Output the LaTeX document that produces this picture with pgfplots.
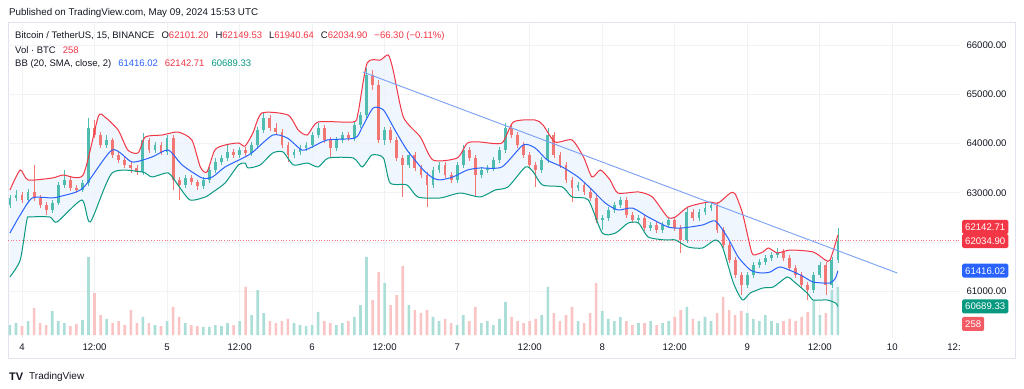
\documentclass[border=0pt]{standalone}
\usepackage{fontspec}
\setmainfont{Liberation Sans}
\usepackage{pgfplots}
\usepackage{pgfplotstable}
\pgfplotsset{compat=1.18}

\definecolor{txt}{RGB}{19,23,34}
\definecolor{gridc}{RGB}{240,242,246}
\definecolor{framec}{RGB}{224,227,235}
\definecolor{candup}{RGB}{80,188,176}
\definecolor{canddn}{RGB}{242,118,116}
\definecolor{volup}{RGB}{172,222,216}
\definecolor{voldn}{RGB}{250,196,196}
\definecolor{bbred}{RGB}{242,54,69}
\definecolor{bbblue}{RGB}{41,98,255}
\definecolor{bbgreen}{RGB}{8,153,129}
\definecolor{bbfill}{RGB}{240,246,253}
\definecolor{trendc}{RGB}{120,160,245}
\definecolor{lastc}{RGB}{247,120,130}
\definecolor{volbox}{RGB}{242,90,100}

% hourly candles, t = hours from May 4 00:00 UTC
\pgfplotstableread{
t o h l c v
-2 62752 62956 62691 62895 56
-1 62895 63057 62834 62956 67
1 62854 63078 62793 63017 78
5 62651 62854 62590 62793 134
6 62793 63220 62752 63159 78
7 63159 63464 63098 63261 67
10 63057 63261 63017 63200 84
11 63200 64521 63139 64318 437
14 63972 64175 63911 64074 90
20 63423 64216 63362 64074 101
22 63870 64033 63810 63972 56
24 63830 64175 63769 64114 78
27 63159 63362 63098 63301 67
30 63139 63322 63078 63261 45
31 63261 63525 63200 63464 45
32 63464 63708 63403 63627 56
33 63627 63769 63566 63708 50
34 63708 63972 63647 63830 67
36 63769 63932 63708 63870 78
38 63810 64033 63749 63972 112
39 63972 64338 63911 64277 252
40 64277 64643 64216 64521 123
45 63769 63891 63708 63830 67
46 63830 63972 63769 63911 56
47 63911 64033 63850 63972 50
48 63972 64236 63911 64175 56
49 64175 64419 64114 64318 129
52 63911 64135 63850 64074 56
53 64074 64236 64013 64175 67
55 64114 64440 64053 64379 101
56 64379 64643 64318 64582 168
57 64582 65538 64521 65395 437
60 64074 64338 63972 64277 291
64 63566 63830 63505 63769 168
68 63159 63525 63098 63464 101
69 63464 63627 63403 63566 78
72 63261 63627 63200 63566 56
73 63566 63972 63505 63870 112
76 63362 63525 63301 63464 67
77 63464 63566 63403 63505 78
78 63505 63728 63444 63667 56
79 63667 63932 63606 63870 90
80 63870 64419 63810 64318 185
86 63464 63728 63403 63667 112
87 63667 64318 63606 64175 269
92 63098 63220 63037 63159 78
96 62447 62549 62244 62488 134
97 62488 62712 62427 62651 90
98 62651 62813 62590 62752 78
99 62752 62915 62691 62854 101
102 62447 62549 62386 62488 67
104 62285 62407 62224 62346 78
106 62244 62407 62183 62346 67
107 62346 62508 62285 62447 78
110 62041 62691 61980 62610 157
112 62488 62671 62427 62610 78
113 62610 62793 62549 62691 101
114 62691 62813 62630 62752 78
120 61126 61390 61065 61329 123
121 61329 61594 61268 61533 90
122 61533 61655 61472 61594 78
123 61594 61736 61533 61675 112
124 61675 61797 61614 61736 78
125 61736 61878 61675 61797 67
131 61024 61390 60963 61329 196
132 61329 61594 61268 61533 112
134 61126 61695 61065 61634 252
135 61634 62285 61573 62035 269
}\upcandles

\pgfplotstableread{
t o h l c v
0 62956 63017 62793 62854 50
2 63017 63566 62834 62895 151
3 62895 62956 62691 62752 67
4 62752 62813 62549 62651 56
8 63261 63322 63037 63098 50
9 63098 63159 62996 63057 62
12 64318 64480 64114 64175 235
13 64175 64236 63911 63972 112
15 64074 64114 63708 63769 67
16 63769 63830 63606 63667 78
17 63667 63728 63505 63566 56
18 63566 63627 63403 63505 140
19 63505 63566 63362 63423 67
21 64074 64114 63810 63870 67
23 63972 64033 63769 63830 50
25 64114 64175 63057 63261 157
26 63261 63322 62854 63159 101
28 63301 63362 63159 63220 56
29 63220 63261 63057 63139 50
35 63830 63891 63708 63769 56
37 63870 63932 63749 63810 269
41 64521 64582 64257 64318 78
42 64318 64419 64175 64236 67
43 64236 64297 63911 63972 78
44 63972 64033 63627 63769 90
50 64318 64379 64013 64074 78
51 64074 64135 63728 63911 67
54 64175 64236 64053 64114 78
58 65395 65497 65090 65192 196
59 65192 65294 64013 64074 353
61 64277 64338 64013 64074 168
62 64074 64135 63647 63708 224
63 63708 63769 62915 63566 386
65 63769 63830 63444 63505 140
66 63505 63566 63301 63362 123
67 63362 63423 62712 63159 140
70 63566 63627 63301 63362 90
71 63362 63423 63200 63261 67
74 63870 63932 63647 63708 78
75 63708 63769 62915 63362 157
81 64318 64379 64114 64175 101
82 64175 64236 63911 63972 78
83 63972 64033 63708 63769 67
84 63769 63830 63505 63566 78
85 63566 63627 63118 63464 90
88 64175 64236 63708 63769 123
89 63769 63830 63505 63566 78
90 63566 63627 63200 63261 112
91 63261 63322 62813 63098 157
93 63159 63220 62956 63017 67
94 63017 63078 62834 62895 123
95 62895 62956 62386 62447 291
100 62854 62915 62488 62549 78
101 62549 62610 62386 62447 56
103 62488 62549 62224 62285 67
105 62346 62407 62183 62244 56
108 62447 62508 62224 62285 101
109 62285 62346 61777 62041 140
111 62610 62671 62427 62488 90
115 62752 62813 62183 62244 123
116 62244 62305 61878 61939 213
117 61939 62000 61573 61634 140
118 61634 61695 61268 61329 112
119 61329 61390 60923 61126 134
126 61797 61858 61614 61675 78
127 61675 61736 61411 61472 90
128 61472 61533 61268 61329 78
129 61329 61390 61065 61126 101
130 61126 61187 60821 61024 129
133 61533 61594 60923 61126 123
}\dncandles

\pgfplotstableread{
t p
-2 63057
-0.3 63464
1.0 63261
5.0 63301
6.8 63362
10.1 63362
12.6 64541
13.7 64541
15.9 64277
17.5 63870
19.2 63810
20.4 64135
23.2 64175
25.8 64236
28.1 64074
29.5 63525
30.6 63423
31.9 63870
33.6 63972
35.8 64013
36.9 63950
38.2 64216
39.7 64623
44.0 64582
45.7 64277
47.2 64175
49.0 64440
54.8 64440
55.6 64623
57.1 65639
59.3 65700
60.6 65802
61.4 65497
63.1 64541
65.9 64135
68.0 63667
72.0 63708
73.7 64013
75.8 64033
79.4 64013
81.3 64440
84.9 64480
86.2 64379
88.2 64033
91.0 64074
92.9 63728
94.3 63322
95.7 63464
97.3 63261
98.6 62996
102.0 63017
104.3 62915
106.8 62508
108.1 62508
110.2 62712
113.5 62813
115.2 62793
117.2 62996
118.0 62976
119.2 62590
120.5 61898
121.0 61736
122.6 61797
123.5 61878
125.0 61777
127.1 61837
130.9 61797
132.9 61634
133.7 61634
135.0 62143
}\bbupper

\pgfplotstableread{
t p
-2 62183
-0.3 62549
1.7 62895
5.0 62895
6.6 62935
10.1 63098
14.9 63870
18.2 63627
21.5 63728
24.2 63870
26.5 63566
29.8 63301
31.5 63322
33.6 63525
36.9 63728
38.2 63830
41.5 64175
43.9 64114
46.3 63870
48.0 63932
50.5 64074
55.1 64114
56.3 64338
58.1 64724
59.8 64684
61.7 64277
63.7 63870
66.4 63464
68.0 63301
69.2 63261
71.3 63322
73.7 63464
75.8 63505
79.4 63525
82.9 63972
84.9 63911
86.9 63667
89.4 63525
92.0 63322
94.0 63098
96.5 62793
98.6 62651
101.0 62691
103.6 62508
106.9 62305
109.2 62285
112.6 62346
114.7 62427
116.7 62102
118.5 61695
120.5 61431
122.2 61370
123.8 61390
125.5 61492
128.8 61329
130.9 61187
133.7 61167
134.6 61268
135.0 61416
}\bbmid

\pgfplotstableread{
t p
-2 61289
-0.3 61634
0.8 62447
1.3 62508
4.6 62508
5.8 62407
9.9 62854
11.3 62407
14.9 63403
19.9 63423
21.5 63322
24.2 63403
25.8 63159
27.8 62854
30.3 62915
31.6 63017
33.6 63200
35.8 63566
36.9 63606
37.4 63505
39.4 63566
41.5 63810
43.2 63830
44.9 63566
47.2 63606
49.0 63525
50.7 63708
54.8 63708
56.3 63525
57.9 63769
59.8 63708
60.9 63200
63.7 63159
65.5 62915
69.2 62895
72.5 62996
75.8 62915
78.3 63057
80.4 63118
83.3 63525
84.6 63423
86.1 63159
89.4 63118
91.0 62915
93.7 62854
96.0 62183
98.2 62183
100.3 62386
102.0 62386
103.6 62102
106.4 62041
108.1 62041
110.2 61898
112.6 61878
114.7 62041
115.9 61898
117.7 61167
119.2 60821
120.5 60963
122.6 61065
124.3 61085
126.6 61289
127.6 61207
129.9 60963
130.9 60821
133.2 60821
134.6 60760
135.0 60689
}\bblower

\pgfplotsset{
  base/.style={scale only axis, width=952pt, height=316pt,
    xmin=-2.32, xmax=155.2, at={(8pt,50pt)}, anchor=south west},
  price/.style={base, ymin=60048, ymax=66473},
}
\tikzset{
  box/.style={anchor=west, text=white, font=\fontsize{9.6}{10}\selectfont,
    inner xsep=3pt, inner ysep=2pt, minimum height=14pt, rounded corners=1.5pt, xshift=2pt},
}

\begin{document}
\begin{tikzpicture}[x=1pt,y=1pt]
\fill[white] (0,0) rectangle (1024,388);
\draw[framec, line width=0.8pt] (8,30) rectangle (1015,366);

% band fill (upper area minus lower area)
\begin{axis}[price, hide axis]
\addplot[fill=bbfill, draw=none, smooth, tension=0.4] table[x=t,y=p]{\bbupper} \closedcycle;
\addplot[fill=white, draw=none, smooth, tension=0.4] table[x=t,y=p]{\bblower} \closedcycle;
\end{axis}

% grid and tick labels
\begin{axis}[price,
  xtick={0,12,...,144},
  xticklabels={4,12:00,5,12:00,6,12:00,7,12:00,8,12:00,9,12:00,10},
  ytick={61000,62000,63000,64000,65000,66000},
  yticklabels={61000.00,,63000.00,64000.00,65000.00,66000.00},
  scaled y ticks=false, scaled x ticks=false,
  yticklabel pos=right,
  grid=major, grid style={gridc, line width=0.8pt},
  axis line style={draw=none}, major tick length=0pt,
  tick label style={font=\fontsize{9.6}{10}\selectfont, text=txt},
  xticklabel style={yshift=-2pt},
  yticklabel style={xshift=3pt}]
\addplot[draw=none, forget plot] coordinates {(0,62000)};
\end{axis}

% volume
\begin{axis}[base, ymin=-16.8, ymax=1753, hide axis]
\addplot[ybar, bar width=2.6pt, bar shift=0pt, fill=volup, draw=none] table[x=t,y=v]{\upcandles};
\addplot[ybar, bar width=2.6pt, bar shift=0pt, fill=voldn, draw=none] table[x=t,y=v]{\dncandles};
\end{axis}

% price
\begin{axis}[price, hide axis, clip=false]
% wicks
\addplot[candup, line width=0.6pt, mark=none, quiver={u=0, v=\thisrow{h}-\thisrow{l}}]
  table[x=t, y=l]{\upcandles};
\addplot[canddn, line width=0.6pt, mark=none, quiver={u=0, v=\thisrow{h}-\thisrow{l}}]
  table[x=t, y=l]{\dncandles};
% bodies
\addplot[candup, line width=2.8pt, mark=none, quiver={u=0, v=\thisrow{c}-\thisrow{o}}]
  table[x=t, y=o]{\upcandles};
\addplot[canddn, line width=2.8pt, mark=none, quiver={u=0, v=\thisrow{o}-\thisrow{c}}]
  table[x=t, y=c]{\dncandles};

\addplot[lastc, dotted, line width=0.7pt] coordinates {(-2.32,62034.9) (155.2,62034.9)};
\addplot[bbred, line width=1pt, smooth, tension=0.4] table[x=t,y=p]{\bbupper};
\addplot[bbblue, line width=1pt, smooth, tension=0.4] table[x=t,y=p]{\bbmid};
\addplot[bbgreen, line width=1pt, smooth, tension=0.4] table[x=t,y=p]{\bblower};
\addplot[trendc, line width=0.9pt] coordinates {(56.4,65456) (144.8,61370)};

\node[box, fill=bbred] at (axis cs:155.2,62305) {62142.71};
\node[box, fill=bbred] at (axis cs:155.2,62020) {62034.90};
\node[box, fill=bbblue] at (axis cs:155.2,61416) {61416.02};
\node[box, fill=bbgreen] at (axis cs:155.2,60689) {60689.33};
\node[box, fill=volbox] at (axis cs:155.2,60333) {258};
\end{axis}

\node[text=txt, font=\fontsize{9.6}{10}\selectfont] at (954,41) {12:};

\node[anchor=west, inner sep=0pt, text=txt, font=\fontsize{9.8}{11}\selectfont] at (9,375)
  {Published on TradingView.com, May 09, 2024 15:53 UTC};
\node[anchor=west, inner sep=0pt, text=txt, font=\fontsize{9.5}{10}\selectfont] at (15,352)
  {Bitcoin / TetherUS, 15, BINANCE\hspace{7pt}O\textcolor{bbred}{62101.20}\hspace{7pt}H\textcolor{bbred}{62149.53}\hspace{7pt}L\textcolor{bbred}{61940.64}\hspace{7pt}C\textcolor{bbred}{62034.90}\hspace{7pt}\textcolor{bbred}{−66.30 (−0.11\%)}};
\node[anchor=west, inner sep=0pt, text=txt, font=\fontsize{9.5}{10}\selectfont] at (15,338)
  {Vol · BTC\hspace{7pt}\textcolor{bbred}{258}};
\node[anchor=west, inner sep=0pt, text=txt, font=\fontsize{9.5}{10}\selectfont] at (15,324)
  {BB (20, SMA, close, 2)\hspace{7pt}\textcolor{bbblue}{61416.02}\hspace{7pt}\textcolor{bbred}{62142.71}\hspace{7pt}\textcolor{bbgreen}{60689.33}};

\node[anchor=west, inner sep=0pt, text=txt, font=\fontsize{11}{12}\selectfont\bfseries] at (9,11) {TV};
\node[anchor=west, inner sep=0pt, text=txt, font=\fontsize{10}{11}\selectfont] at (29,11) {TradingView};

\pgfresetboundingbox
\path[use as bounding box] (0,0) rectangle (1024,388);
\end{tikzpicture}
\end{document}
